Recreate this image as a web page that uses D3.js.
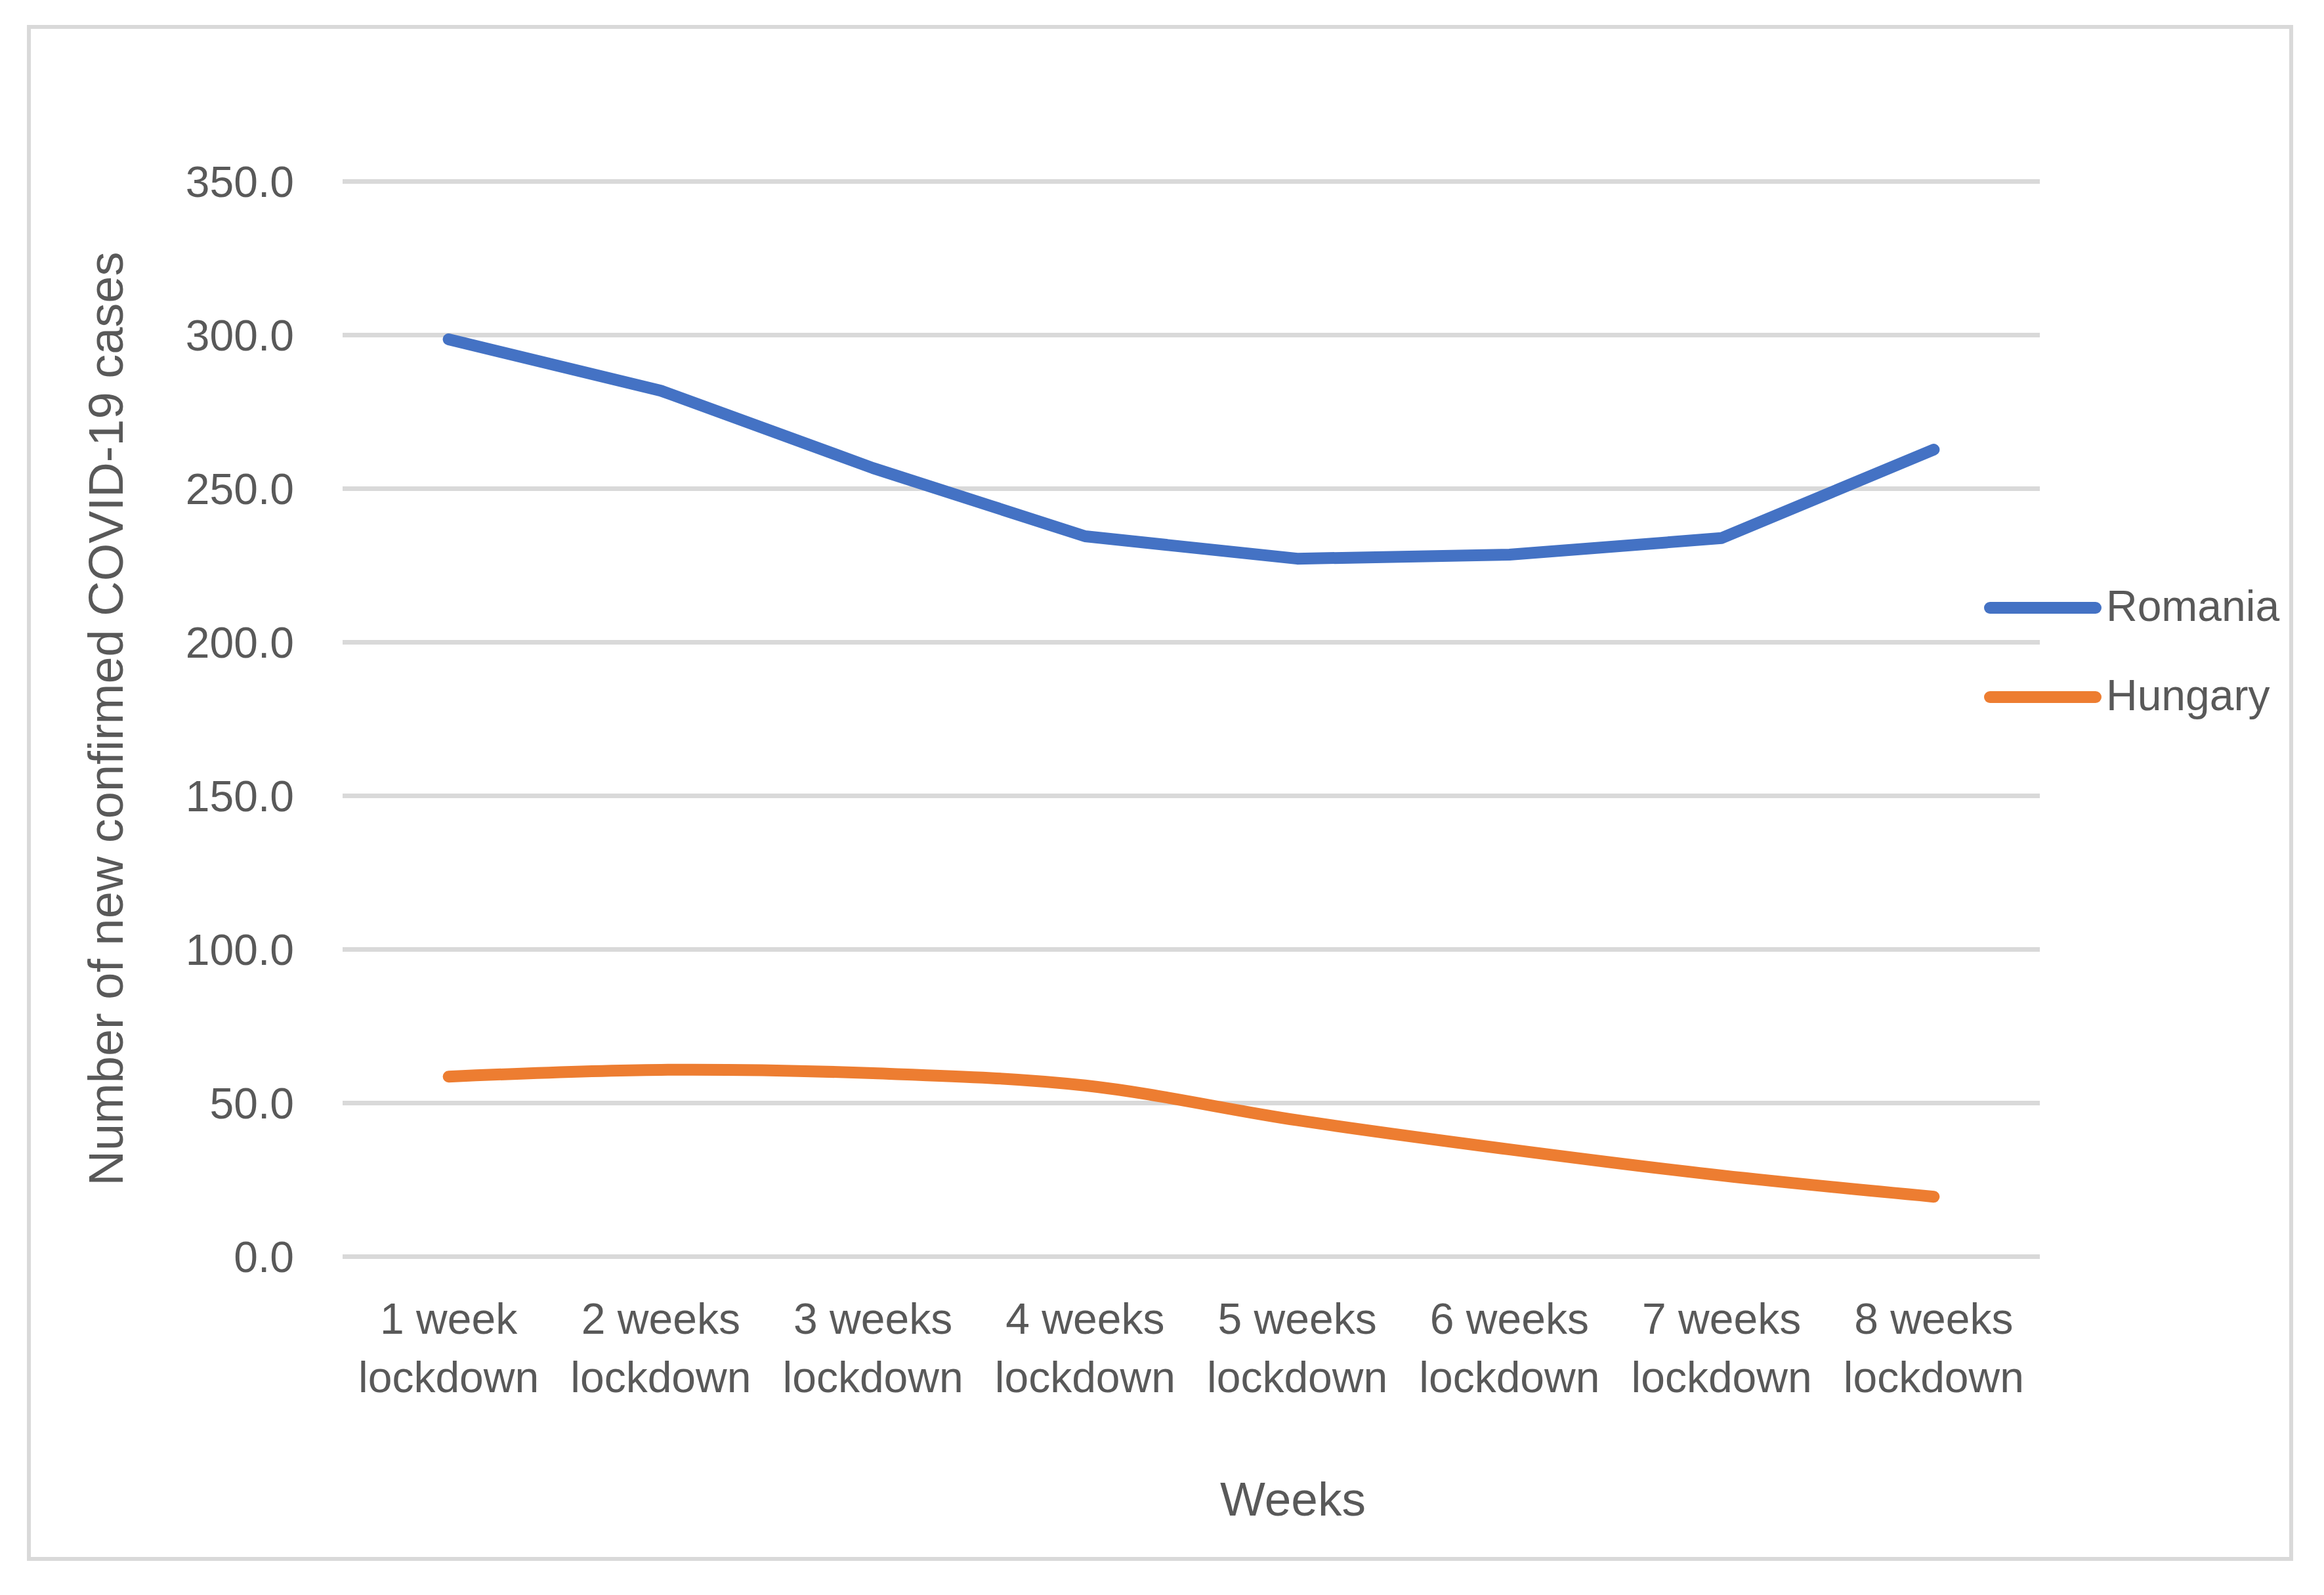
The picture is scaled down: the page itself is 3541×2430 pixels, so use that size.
<!DOCTYPE html>
<html>
<head>
<meta charset="utf-8">
<script src="https://cdn.jsdelivr.net/npm/d3@7"></script>
<style>
  body { margin: 0; background: #fff; }
  text { font-family: 'Liberation Sans', Arial, sans-serif; fill: #595959; }
</style>
</head>
<body>
<svg id="chart" width="3541" height="2430"></svg>
<script>
// data
const categories = ['1 week', '2 weeks', '3 weeks', '4 weeks', '5 weeks', '6 weeks', '7 weeks', '8 weeks'];
const romania = [298.5, 281.8, 256.6, 234.4, 227.1, 228.4, 233.8, 262.6];
const hungary = [58.5, 60.7, 59.6, 55.6, 44.3, 34.8, 26.3, 19.4];
const yTicks = [0, 50, 100, 150, 200, 250, 300, 350];
const seriesNames = ['Romania', 'Hungary'];
const colors = { Romania: '#4472C4', Hungary: '#ED7D31' };

const svg = d3.select('#chart');
const plot = { left: 522, right: 3108, top: 276, bottom: 1914 };

// outer frame
svg.append('rect')
  .attr('x', 44).attr('y', 41)
  .attr('width', 3447).attr('height', 2334)
  .attr('fill', 'none')
  .attr('stroke', '#d9d9d9')
  .attr('stroke-width', 6);

const x = d3.scaleBand()
  .domain(categories)
  .range([plot.left, plot.right])
  .padding(0);
const cx = (c) => x(c) + x.bandwidth() / 2;

const y = d3.scaleLinear()
  .domain([0, 350])
  .range([plot.bottom, plot.top]);

// y axis + gridlines
const yAxis = svg.append('g')
  .attr('transform', `translate(${plot.left},0)`)
  .call(
    d3.axisLeft(y)
      .tickValues(yTicks)
      .tickFormat(d3.format('.1f'))
      .tickSize(-(plot.right - plot.left))
      .tickPadding(74),
  );
yAxis.select('.domain').remove();
yAxis.selectAll('line')
  .attr('stroke', '#d9d9d9')
  .attr('stroke-width', 7);
yAxis.selectAll('text')
  .attr('font-size', 66)
  .attr('dy', '0.35em')
  .style('fill', '#595959');

// x axis, two-line labels
const xAxis = svg.append('g')
  .attr('transform', `translate(0,${plot.bottom})`)
  .call(d3.axisBottom(x).tickSize(0));
xAxis.select('.domain').remove();
xAxis.selectAll('text')
  .attr('font-size', 66)
  .attr('dy', null)
  .attr('y', null)
  .style('fill', '#595959')
  .text(null)
  .call((t) => t.append('tspan').attr('x', 0).attr('y', 118).text((d) => d))
  .call((t) => t.append('tspan').attr('x', 0).attr('y', 207).text('lockdown'));

// lines
const lineStraight = d3.line()
  .x((d, i) => cx(categories[i]))
  .y((d) => y(d));
const lineSmooth = d3.line()
  .x((d, i) => cx(categories[i]))
  .y((d) => y(d))
  .curve(d3.curveCardinal.tension(0));

const series = [
  { name: 'Romania', values: romania, gen: lineStraight },
  { name: 'Hungary', values: hungary, gen: lineSmooth },
];

svg.selectAll('.series')
  .data(series)
  .join('path')
  .classed('series', true)
  .attr('d', (d) => d.gen(d.values))
  .attr('fill', 'none')
  .attr('stroke', (d) => colors[d.name])
  .attr('stroke-width', 18)
  .attr('stroke-linecap', 'round')
  .attr('stroke-linejoin', 'round');

// axis titles
svg.append('text')
  .attr('x', 1970)
  .attr('y', 2309)
  .attr('text-anchor', 'middle')
  .attr('font-size', 73)
  .text('Weeks');

svg.append('text')
  .attr('transform', `translate(187,${(plot.top + plot.bottom) / 2}) rotate(-90)`)
  .attr('text-anchor', 'middle')
  .attr('font-size', 74)
  .text('Number of new confirmed COVID-19 cases');

// legend
const legend = svg.append('g')
  .attr('transform', 'translate(3032,926)');
legend.selectAll('.legend-item')
  .data(seriesNames)
  .join('g')
  .classed('legend-item', true)
  .attr('transform', (d, i) => `translate(0,${136 * i})`)
  .call((g) =>
    g.append('line')
      .attr('x1', 0).attr('x2', 161)
      .attr('y1', 0).attr('y2', 0)
      .attr('stroke', (d) => colors[d])
      .attr('stroke-width', 18)
      .attr('stroke-linecap', 'round'),
  )
  .call((g) =>
    g.append('text')
      .attr('x', 177)
      .attr('y', 20)
      .attr('font-size', 66)
      .text((d) => d),
  );
</script>
</body>
</html>
